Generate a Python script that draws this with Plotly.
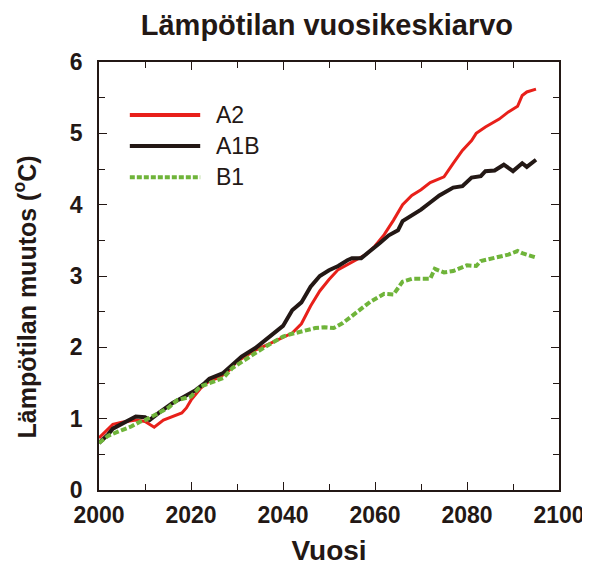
import plotly.graph_objects as go

# A2 scenario
a2_years = [2000, 2003, 2005, 2008, 2010, 2012, 2014, 2016, 2018, 2019, 2020, 2022, 2024,
            2026, 2028, 2030, 2032, 2034, 2037, 2040, 2042, 2044, 2046, 2048, 2050, 2052,
            2054, 2056, 2058, 2060, 2062, 2064, 2066, 2068, 2070, 2072, 2073, 2075, 2077,
            2079, 2081, 2082, 2084, 2086, 2087, 2089, 2091, 2092, 2093, 2095]
a2_values = [0.73, 0.92, 0.95, 0.98, 0.96, 0.88, 0.98, 1.03, 1.08, 1.15, 1.26, 1.42, 1.53,
             1.57, 1.66, 1.80, 1.88, 1.96, 2.05, 2.14, 2.20, 2.33, 2.58, 2.79, 2.95, 3.09,
             3.16, 3.22, 3.30, 3.42, 3.58, 3.78, 4.00, 4.13, 4.21, 4.31, 4.34, 4.39, 4.58,
             4.76, 4.90, 5.00, 5.09, 5.17, 5.20, 5.30, 5.38, 5.53, 5.58, 5.62]

# A1B scenario
a1b_years = [2000, 2002, 2003, 2006, 2008, 2010, 2011, 2013, 2016, 2018, 2019, 2021, 2023,
             2024, 2027, 2029, 2031, 2034, 2037, 2040, 2042, 2044, 2046, 2048, 2050, 2052,
             2054, 2055, 2057, 2059, 2061, 2063, 2065, 2066, 2068, 2070, 2072, 2074, 2077,
             2079, 2081, 2083, 2084, 2086, 2088, 2090, 2092, 2093, 2095]
a1b_values = [0.66, 0.78, 0.86, 0.97, 1.03, 1.02, 0.98, 1.08, 1.22, 1.29, 1.33, 1.40, 1.50,
              1.56, 1.64, 1.75, 1.87, 1.99, 2.15, 2.30, 2.52, 2.63, 2.85, 3.00, 3.08, 3.14,
              3.22, 3.25, 3.25, 3.35, 3.46, 3.57, 3.64, 3.77, 3.85, 3.93, 4.03, 4.13, 4.24,
              4.26, 4.38, 4.40, 4.47, 4.48, 4.56, 4.47, 4.58, 4.53, 4.63]

# B1 scenario
b1_years = [2000, 2002, 2005, 2007, 2009, 2010, 2013, 2015, 2017, 2020, 2022, 2024, 2027,
            2029, 2031, 2034, 2037, 2040, 2042, 2045, 2047, 2049, 2051, 2053, 2055, 2057,
            2059, 2062, 2064, 2066, 2068, 2072, 2073, 2075, 2077, 2080, 2082, 2083, 2086,
            2089, 2091, 2092, 2095]
b1_values = [0.66, 0.76, 0.84, 0.89, 0.96, 0.98, 1.08, 1.15, 1.26, 1.31, 1.45, 1.50, 1.57,
             1.71, 1.80, 1.92, 2.04, 2.15, 2.19, 2.24, 2.27, 2.28, 2.27, 2.34, 2.44, 2.54,
             2.64, 2.75, 2.74, 2.92, 2.96, 2.96, 3.10, 3.05, 3.07, 3.15, 3.14, 3.21, 3.25,
             3.30, 3.35, 3.32, 3.26]

FONT = "Liberation Sans, Arial, sans-serif"
INK = "#231815"
RED = "#e8201a"
GREEN = "#6fb43a"

series = [
    ("A2", a2_years, a2_values, dict(color=RED, width=3)),
    ("A1B", a1b_years, a1b_values, dict(color=INK, width=4)),
    ("B1", b1_years, b1_values, dict(color=GREEN, width=4, dash="6px,2.5px")),
]

fig = go.Figure()
for name, xs, ys, line in series:
    fig.add_trace(go.Scatter(x=xs, y=ys, mode="lines", name=name, line=line,
                             showlegend=False))

# hand-made legend (longer swatches than plotly's built-in legend)
leg_y = [0.876, 0.804, 0.731]
for (name, _, _, line), ly in zip(series, leg_y):
    fig.add_shape(type="line", xref="paper", yref="paper", x0=0.067, x1=0.22, y0=ly, y1=ly,
                  line=dict(color=line["color"], width=4,
                            dash="5px,2px" if "dash" in line else "solid"))
    fig.add_annotation(text=name, xref="paper", yref="paper", x=0.25, y=ly,
                       xanchor="left", yanchor="middle", showarrow=False,
                       font=dict(family=FONT, size=23, color=INK))

# y axis title as a rotated annotation so it can be placed exactly
fig.add_annotation(text="<b>Lämpötilan muutos (<sup>o</sup>C)</b>", textangle=-90,
                   xref="paper", yref="paper", x=-0.160, y=0.5, yshift=-21,
                   xanchor="center", yanchor="middle", showarrow=False,
                   font=dict(family=FONT, size=25, color=INK))

axis_common = dict(
    showline=True, linecolor=INK, linewidth=1.5, mirror="allticks",
    ticks="inside", ticklen=8, tickwidth=1.2, tickcolor=INK,
    showgrid=False, zeroline=False, automargin=False,
    tickfont=dict(family=FONT, size=23, color=INK, weight="bold"),
)

fig.update_xaxes(range=[2000, 2100], tick0=2000, dtick=20, ticklabelstandoff=4,
                 minor=dict(ticks="inside", ticklen=6, tickcolor=INK, dtick=10, tick0=2000),
                 title=dict(text="<b>Vuosi</b>", font=dict(family=FONT, size=28, color=INK),
                            standoff=13),
                 **axis_common)
fig.update_yaxes(range=[0, 6], tick0=0, dtick=1, ticklabelstandoff=10,
                 minor=dict(ticks="inside", ticklen=6, tickcolor=INK, dtick=0.5, tick0=0),
                 **axis_common)

# the page adds an 8 px body margin, so the figure is 8 px smaller on each side
fig.update_layout(
    width=582, height=559,
    margin=dict(l=91, r=31, t=54, b=77),
    paper_bgcolor="white", plot_bgcolor="white",
    title=dict(text="<b>Lämpötilan vuosikeskiarvo</b>", x=0.548, xanchor="center",
               y=0.97, yanchor="middle", font=dict(family=FONT, size=29, color=INK)),
    showlegend=False,
)

fig.write_html("out.html")
